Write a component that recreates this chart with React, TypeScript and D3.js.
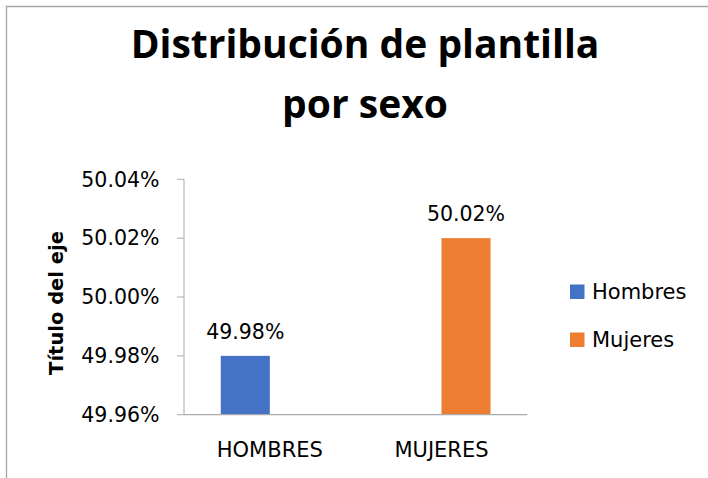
import React from "react";
import * as d3 from "d3";

const categories = ["HOMBRES", "MUJERES"];
const seriesNames = ["Hombres", "Mujeres"];
const seriesColors = ["#4472C4", "#ED7D31"];
// value of each series in each category (null = no bar)
const hombresValues = [0.4998, null];
const mujeresValues = [null, 0.5002];
const yTicks = [0.4996, 0.4998, 0.5, 0.5002, 0.5004];
const titleLines = ["Distribución de plantilla", "por sexo"];
const yAxisTitle = "Título del eje";

const W = 708;
const H = 478;
const plotLeft = 184;
const plotRight = 527.3;
const plotTop = 179.3;
const plotBottom = 414.7;
const axisColor = "#ABABAB";
const regular = "'DejaVu Sans', sans-serif";
const bold = "'Open Sans', 'Liberation Sans', sans-serif";

export default function App() {
  const y = d3.scaleLinear().domain([0.4996, 0.5004]).range([plotBottom, plotTop]);
  const x = d3.scaleBand<string>().domain(categories).range([plotLeft, plotRight]).padding(0);
  const xs = d3
    .scaleBand<string>()
    .domain(seriesNames)
    .range([0, x.bandwidth()])
    .paddingInner(0)
    .paddingOuter(0.75);
  const fmt = d3.format(".2%");
  const series = [hombresValues, mujeresValues];

  return (
    <div style={{ position: "absolute", left: 0, top: 0 }}>
      <svg width={W} height={H} style={{ display: "block", background: "#fff" }}>
        <rect x={0} y={0} width={W} height={H} fill="#fff" />
        <path d={`M6.5,${H + 2}V6.5H${W + 2}`} fill="none" stroke="#A6A6A6" strokeWidth={1.3} />

        {titleLines.map((t, i) => (
          <text
            key={t}
            x={365}
            y={58 + i * 60}
            textAnchor="middle"
            fontFamily={bold}
            fontWeight="bold"
            fontSize={39}
            fill="#000"
          >
            {t}
          </text>
        ))}

        {/* y axis */}
        <line x1={plotLeft} x2={plotLeft} y1={plotTop} y2={plotBottom} stroke={axisColor} strokeWidth={1} />
        {yTicks.map((t) => (
          <g key={t}>
            <line x1={plotLeft - 7} x2={plotLeft} y1={y(t)} y2={y(t)} stroke={axisColor} strokeWidth={1} />
            <text
              x={159.5}
              y={y(t) + 7.3}
              textAnchor="end"
              fontFamily={regular}
              fontSize={20.5}
              fill="#000"
            >
              {fmt(t)}
            </text>
          </g>
        ))}

        {/* bars */}
        {series.map((vals, si) =>
          vals.map((v, ci) => {
            if (v == null) return null;
            const bx = (x(categories[ci]) as number) + (xs(seriesNames[si]) as number);
            const bw = xs.bandwidth();
            return (
              <g key={`${si}-${ci}`}>
                <rect x={bx} y={y(v)} width={bw} height={y(0.4996) - y(v)} fill={seriesColors[si]} />
                <text
                  x={bx + bw / 2}
                  y={y(v) - 17}
                  textAnchor="middle"
                  fontFamily={regular}
                  fontSize={20.5}
                  fill="#000"
                >
                  {fmt(v)}
                </text>
              </g>
            );
          })
        )}

        {/* x axis */}
        <line x1={plotLeft} x2={plotRight} y1={plotBottom} y2={plotBottom} stroke={axisColor} strokeWidth={1.3} />
        {categories.map((c) => (
          <text
            key={c}
            x={(x(c) as number) + x.bandwidth() / 2}
            y={456.5}
            textAnchor="middle"
            fontFamily={regular}
            fontSize={21}
            fill="#000"
          >
            {c}
          </text>
        ))}

        {/* y axis title */}
        <text
          transform={`translate(63,303) rotate(-90)`}
          textAnchor="middle"
          fontFamily={regular}
          fontWeight="bold"
          fontSize={19.5}
          fill="#000"
        >
          {yAxisTitle}
        </text>

        {/* legend */}
        {seriesNames.map((s, i) => (
          <g key={s}>
            <rect x={570} y={284.5 + i * 48} width={14.5} height={14.5} fill={seriesColors[i]} />
            <text x={592} y={299 + i * 48} fontFamily={regular} fontSize={21} fill="#000">
              {s}
            </text>
          </g>
        ))}
      </svg>
    </div>
  );
}
